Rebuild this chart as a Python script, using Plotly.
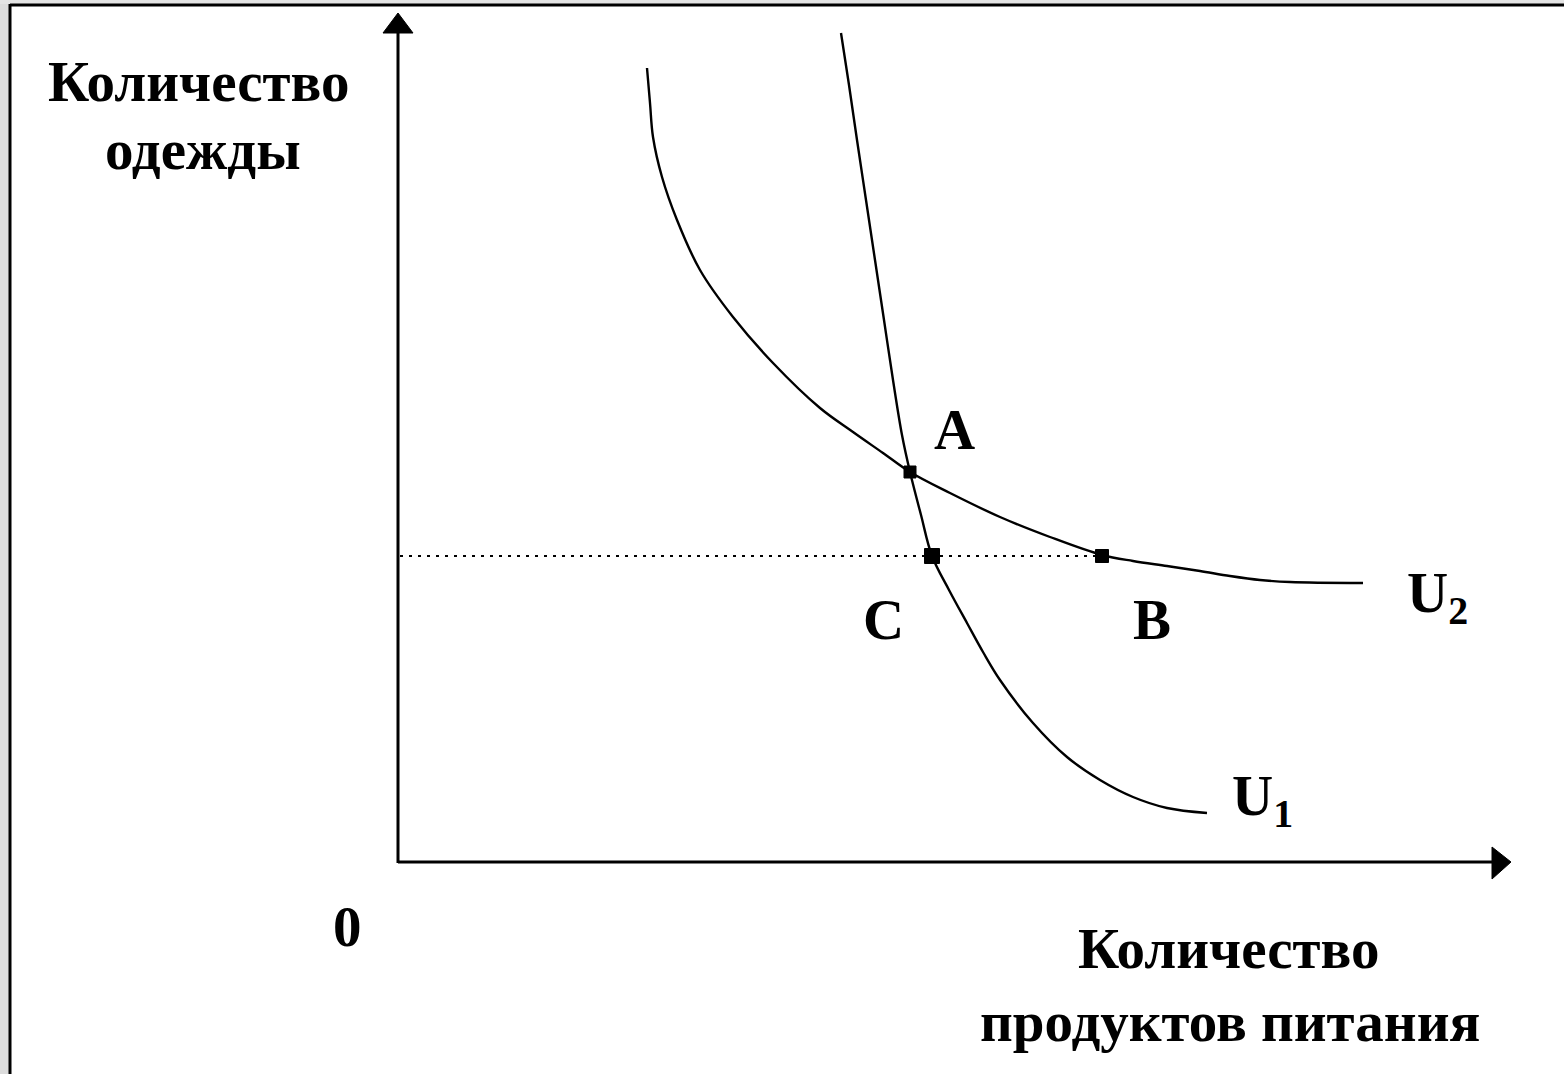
import plotly.graph_objects as go

# Indifference curves (units: origin at axes corner)
u2_x = [249, 252, 255, 264, 279, 302, 335, 375, 422, 455, 485, 512, 552, 602, 652, 704, 735, 769, 802, 832, 862, 892, 965]
u2_y = [794, 759, 725, 685, 642, 592, 545, 499, 454, 430, 409, 390, 369, 345, 325, 307, 301, 296, 291, 286, 282, 280, 279]
u1_x = [443, 451, 459, 468, 477, 486, 495, 504, 512, 523, 534, 551, 569, 585, 602, 635, 669, 702, 735, 769, 809]
u1_y = [829, 777, 722, 662, 602, 542, 482, 427, 390, 347, 306, 272, 239, 210, 182, 139, 105, 82, 65, 54, 49]

pt_names = ["A", "C", "B"]
pt_x = [512, 534, 704]
pt_y = [390, 306, 306]
pt_size = [12, 15, 13]

curve_names = ["U<sub>2</sub>", "U<sub>1</sub>"]
y_title = ["Количество", "одежды"]
x_title = ["Количество", "продуктов питания"]
origin_label = "0"

W, H = 1564, 1074
X0, Y0 = 398, 862  # pixel position of origin


def px(x):
    return x - X0


def py(y):
    return Y0 - y


FONT = "Liberation Serif"
fig = go.Figure()

# dotted horizontal line from vertical axis to B
fig.add_trace(go.Scatter(x=[2, pt_x[2]], y=[pt_y[1], pt_y[2]], mode="lines",
                         line=dict(color="black", width=2, dash="3px,6px"),
                         hoverinfo="skip", showlegend=False))
fig.add_trace(go.Scatter(x=u2_x, y=u2_y, mode="lines",
                         line=dict(color="black", width=2.4, shape="spline", smoothing=1.0),
                         showlegend=False))
fig.add_trace(go.Scatter(x=u1_x, y=u1_y, mode="lines",
                         line=dict(color="black", width=2.4, shape="spline", smoothing=1.0),
                         showlegend=False))
fig.add_trace(go.Scatter(x=pt_x, y=pt_y, mode="markers",
                         marker=dict(symbol="square", size=pt_size, color="black",
                                     line=dict(color="black", width=1), opacity=1),
                         showlegend=False))

shapes = []
# axes
shapes.append(dict(type="line", xref="x", yref="y", x0=0, y0=-1, x1=0, y1=py(32), line=dict(color="black", width=3)))
shapes.append(dict(type="line", xref="x", yref="y", x0=0, y0=0, x1=px(1494), y1=0, line=dict(color="black", width=3)))
shapes.append(dict(type="path", xref="x", yref="y",
                   path=f"M {px(383)},{py(33)} L {px(398)},{py(13)} L {px(413)},{py(33)} Z",
                   fillcolor="black", line=dict(color="black", width=1)))
shapes.append(dict(type="path", xref="x", yref="y",
                   path=f"M {px(1492)},{py(847)} L {px(1511)},{py(862)} L {px(1492)},{py(879)} Z",
                   fillcolor="black", line=dict(color="black", width=1)))
# frame
shapes.append(dict(type="rect", xref="paper", yref="paper", x0=0, x1=9 / W, y0=0, y1=1,
                   fillcolor="#dcdcdc", line=dict(width=0), layer="below"))
shapes.append(dict(type="rect", xref="paper", yref="paper", x0=0, x1=1, y0=1 - 4 / H, y1=1,
                   fillcolor="#e4e4e4", line=dict(width=0), layer="below"))
shapes.append(dict(type="line", xref="paper", yref="paper", x0=10 / W, x1=10 / W, y0=0, y1=1 - 4 / H,
                   line=dict(color="black", width=3)))
shapes.append(dict(type="line", xref="paper", yref="paper", x0=10 / W, x1=1, y0=1 - 5 / H, y1=1 - 5 / H,
                   line=dict(color="black", width=3)))

ann = []


def label(text, cx, cy, size=57):
    ann.append(dict(text=text, x=px(cx), y=py(cy), xref="x", yref="y", showarrow=False,
                    xanchor="center", yanchor="middle",
                    font=dict(family=FONT, size=size, color="black", weight="bold")))


label(y_title[0], 198, 81)
label(y_title[1], 203, 149)
label(x_title[0], 1228, 948)
label(x_title[1], 1230, 1021)
label(origin_label, 347, 926)
label(pt_names[0], 954, 429)
label(pt_names[1], 883, 619)
label(pt_names[2], 1152, 619)
label(curve_names[0], 1437, 597)
label(curve_names[1], 1262, 800)

fig.update_layout(
    width=W, height=H, margin=dict(l=0, r=0, t=0, b=0),
    paper_bgcolor="white", plot_bgcolor="white",
    xaxis=dict(range=[-X0, W - X0], visible=False, fixedrange=True),
    yaxis=dict(range=[Y0 - H, Y0], visible=False, fixedrange=True),
    shapes=shapes, annotations=ann, showlegend=False,
)
fig.write_html("out.html", config={"displayModeBar": False},
               post_script="document.body.style.margin='0';document.body.style.padding='0';")
